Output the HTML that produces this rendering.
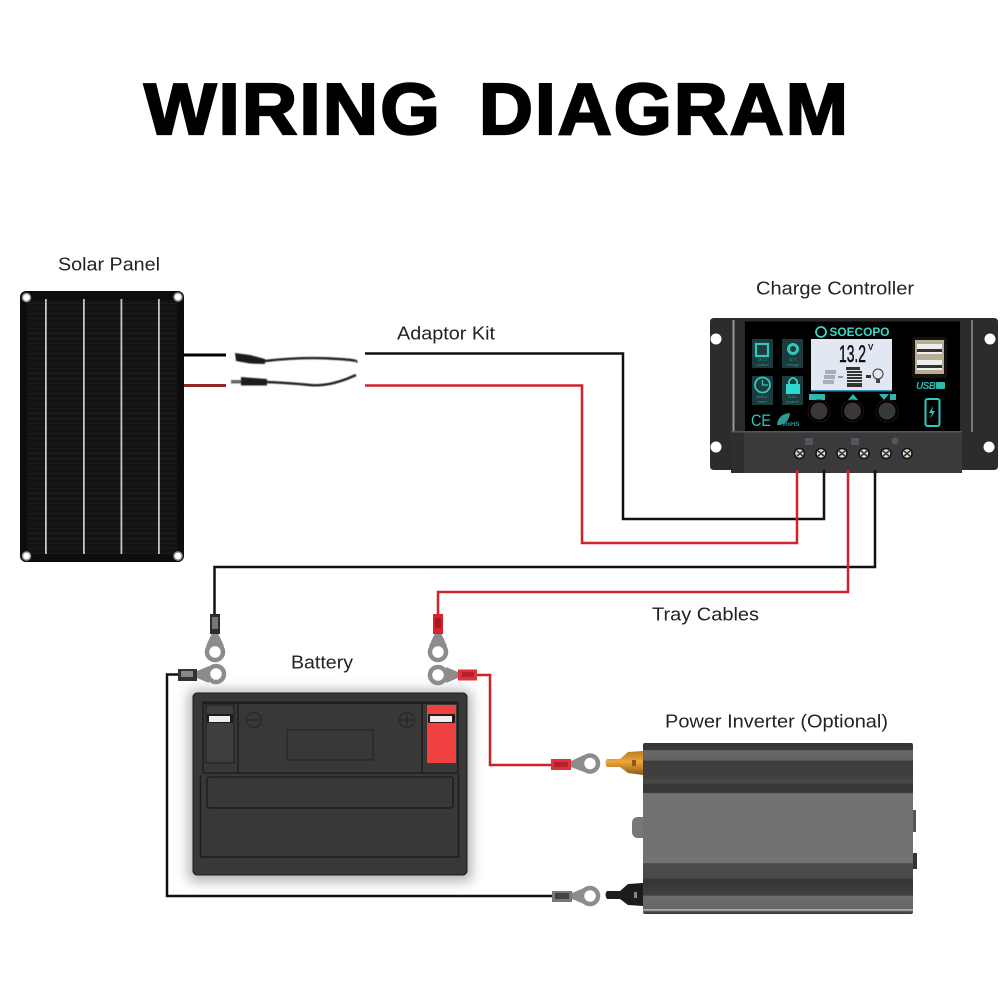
<!DOCTYPE html>
<html>
<head>
<meta charset="utf-8">
<style>
html,body{margin:0;padding:0;background:#fff}
svg{display:block}
text{font-family:"Liberation Sans",sans-serif}
</style>
</head>
<body>
<svg width="1000" height="1000" viewBox="0 0 1000 1000" xmlns="http://www.w3.org/2000/svg">
<defs>
<pattern id="cells" width="6" height="5" patternUnits="userSpaceOnUse">
<rect width="6" height="5" fill="#131313"/>
<rect y="3" width="6" height="1" fill="#1c1c1c"/>
</pattern>
<linearGradient id="inv" x1="0" y1="0" x2="0" y2="1">
<stop offset="0" stop-color="#363636"/>
<stop offset=".04" stop-color="#3a3a3a"/>
<stop offset=".045" stop-color="#6a6a6a"/>
<stop offset=".1" stop-color="#626262"/>
<stop offset=".105" stop-color="#3c3c3c"/>
<stop offset=".2" stop-color="#404040"/>
<stop offset=".23" stop-color="#4a4a4a"/>
<stop offset=".245" stop-color="#363636"/>
<stop offset=".29" stop-color="#383838"/>
<stop offset=".295" stop-color="#727272"/>
<stop offset=".7" stop-color="#727272"/>
<stop offset=".705" stop-color="#4c4c4c"/>
<stop offset=".79" stop-color="#484848"/>
<stop offset=".8" stop-color="#333"/>
<stop offset=".89" stop-color="#404040"/>
<stop offset=".895" stop-color="#6c6c6c"/>
<stop offset=".97" stop-color="#666"/>
<stop offset=".975" stop-color="#c4c4c4"/>
<stop offset=".985" stop-color="#555"/>
<stop offset="1" stop-color="#333"/>
</linearGradient>
<linearGradient id="gold" x1="0" y1="0" x2="0" y2="1">
<stop offset="0" stop-color="#b87a20"/>
<stop offset=".45" stop-color="#eea63a"/>
<stop offset="1" stop-color="#8a5a14"/>
</linearGradient>
<filter id="sh" x="-10%" y="-10%" width="120%" height="120%"><feGaussianBlur stdDeviation="6"/></filter>
<filter id="soft"><feGaussianBlur stdDeviation=".5"/></filter>
</defs>

<!-- Title -->
<g font-size="72" font-weight="700" fill="#000" stroke="#000" stroke-width="2.200" letter-spacing="2">
<text x="144" y="134" textLength="298" lengthAdjust="spacingAndGlyphs">WIRING</text>
<text x="479" y="134" textLength="371" lengthAdjust="spacingAndGlyphs">DIAGRAM</text>
</g>

<!-- Labels -->
<g font-size="18.500" fill="#222">
<text x="58" y="270.500" textLength="102" lengthAdjust="spacingAndGlyphs">Solar Panel</text>
<text x="397" y="339.500" textLength="98" lengthAdjust="spacingAndGlyphs">Adaptor Kit</text>
<text x="756" y="294.500" textLength="158" lengthAdjust="spacingAndGlyphs">Charge Controller</text>
<text x="652" y="620.500" textLength="107" lengthAdjust="spacingAndGlyphs">Tray Cables</text>
<text x="291" y="668.500" textLength="62" lengthAdjust="spacingAndGlyphs">Battery</text>
<text x="665" y="727.500" textLength="223" lengthAdjust="spacingAndGlyphs">Power Inverter (Optional)</text>
</g>

<!-- Wires -->
<g fill="none" stroke-width="2.500">
<path d="M365 353.500H623V519H824V470" stroke="#111"/>
<path d="M365 385.500H582V543H797V470" stroke="#d2232a"/>
<path d="M875 470V567H214.500V614" stroke="#111"/>
<path d="M848 470V592H438V614" stroke="#d2232a"/>
<path d="M178 674.500H167V896H553" stroke="#111"/>
<path d="M476 675H490V765H552" stroke="#cf2028"/>
</g>
<rect x="183" y="353.500" width="43" height="3" fill="#000"/>
<rect x="183" y="384" width="43" height="3" fill="#8e2a26"/>

<!-- Solar panel -->
<rect x="20" y="291" width="164" height="271" rx="6" fill="#0d0d0d"/>
<rect x="27" y="300" width="150" height="254" fill="url(#cells)"/>
<g fill="#c4c4c4">
<rect x="45" y="299" width="1.800" height="255"/>
<rect x="83" y="299" width="1.800" height="255"/>
<rect x="120.500" y="299" width="1.800" height="255"/>
<rect x="158" y="299" width="1.800" height="255"/>
</g>
<g fill="#fff" stroke="#999" stroke-width="1.500">
<circle cx="26.500" cy="297.500" r="4"/>
<circle cx="178" cy="297" r="4"/>
<circle cx="26.500" cy="556" r="4"/>
<circle cx="178" cy="556" r="4"/>
</g>

<!-- Adaptor kit -->
<g filter="url(#soft)">
<path d="M235 353L250 355L265 359V364L250 363.500L236 361Z" fill="#1c1c1c"/>
<path d="M265 361Q300 357 330 358.500T356 362" fill="none" stroke="#222" stroke-width="2.400"/>
<rect x="231" y="380" width="10" height="3.500" fill="#666"/>
<path d="M241 377L267 379V385.500L241 385.500Z" fill="#1c1c1c"/>
<path d="M266 382Q290 383 310 385T356 375" fill="none" stroke="#222" stroke-width="2.400"/>
</g>

<!-- Charge controller -->
<path d="M714 318H994Q998 318 998 322V466Q998 470 994 470H962V473H731V470H714Q710 470 710 466V322Q710 318 714 318Z" fill="#2c2c2e"/>
<rect x="732.500" y="320" width="2" height="112" fill="#999"/>
<rect x="971" y="320" width="2" height="112" fill="#777"/>
<rect x="735" y="320" width="226" height="112" fill="#2a2a2c"/>
<rect x="745" y="321.500" width="215" height="109.500" fill="#000"/>
<circle cx="716" cy="339" r="5.500" fill="#fff"/>
<circle cx="990" cy="339" r="5.500" fill="#fff"/>
<circle cx="716" cy="447" r="5.500" fill="#fff"/>
<circle cx="989" cy="447" r="5.500" fill="#fff"/>
<rect x="731" y="431" width="231" height="42" rx="3" fill="#3a3a3c"/>
<rect x="731" y="431" width="13" height="42" fill="#2e2e30"/>
<rect x="731" y="431" width="231" height="1.500" fill="#55555a"/>
<!-- controller header -->
<circle cx="821" cy="332" r="5" fill="none" stroke="#36d6c6" stroke-width="1.800"/>
<text x="829.500" y="336" font-size="11.500" font-weight="700" fill="#3ad8c8" textLength="60" lengthAdjust="spacingAndGlyphs">SOECOPO</text>
<!-- icon buttons -->
<g fill="#1d3a3c">
<rect x="752" y="339" width="21" height="29"/>
<rect x="782" y="339" width="21" height="29"/>
<rect x="752" y="376" width="21" height="29"/>
<rect x="782" y="376" width="21" height="29"/>
</g>
<rect x="756" y="344" width="12" height="12" fill="none" stroke="#2fc8bc" stroke-width="2.200"/>
<circle cx="793" cy="349" r="4.500" fill="none" stroke="#2fc8bc" stroke-width="3"/>
<circle cx="762.500" cy="385" r="7.500" fill="none" stroke="#2fc8bc" stroke-width="1.800"/>
<path d="M762.500 380V385H768" fill="none" stroke="#2fc8bc" stroke-width="1.300"/>
<rect x="786" y="384" width="14" height="10" fill="#2fd8cc"/>
<path d="M789 384V381Q793 375 797 381V384" fill="none" stroke="#2fd8cc" stroke-width="1.800"/>
<g font-size="4" fill="#2a9a94" text-anchor="middle">
<text x="762.500" y="361">MCU</text><text x="762.500" y="366">control</text>
<text x="792.500" y="361">SET</text><text x="792.500" y="366">voltage</text>
<text x="762.500" y="398">Built-in</text><text x="762.500" y="403">timer</text>
<text x="792.500" y="398">FULL</text><text x="792.500" y="403">protect</text>
</g>
<!-- LCD -->
<rect x="811" y="339" width="81" height="52" fill="#e2e8f2"/>
<rect x="811" y="390" width="81" height="1.500" fill="#3a8fc0"/>
<text x="839" y="362" font-size="24" fill="#111" stroke="#111" stroke-width=".5" textLength="27" lengthAdjust="spacingAndGlyphs">13.2</text>
<text x="868" y="350" font-size="8" font-weight="700" fill="#111">V</text>
<g fill="#a8aeb8">
<rect x="825" y="370" width="11" height="4"/><rect x="824" y="375" width="11" height="4"/><rect x="823" y="380" width="11" height="4"/>
</g>
<rect x="838" y="376" width="5" height="2" fill="#999"/>
<g fill="#333">
<rect x="846" y="367" width="14" height="3"/>
<rect x="847" y="371" width="15" height="2"/>
<rect x="847" y="374" width="15" height="2"/>
<rect x="847" y="377" width="15" height="2"/>
<rect x="847" y="380" width="15" height="2"/>
<rect x="847" y="383" width="15" height="4"/>
<rect x="866" y="375" width="5" height="3"/>
</g>
<circle cx="878" cy="374" r="5" fill="none" stroke="#333" stroke-width="1"/>
<rect x="876" y="379" width="4" height="4" fill="#444"/>
<!-- Knob labels and knobs -->
<rect x="809" y="394" width="16" height="6" fill="#2fb8ae"/>
<path d="M848 400L853 394L858 400Z" fill="#2fb8ae"/>
<path d="M879 394H889L884 400Z" fill="#2fb8ae"/>
<rect x="890" y="394" width="6" height="6" fill="#2fb8ae"/>
<g fill="none" stroke="#2a1010" stroke-width="1">
<circle cx="819" cy="411" r="11"/>
<circle cx="852.500" cy="411" r="11"/>
<circle cx="887" cy="411" r="11"/>
</g>
<g fill="#38383a">
<circle cx="819" cy="411" r="8.500"/>
<circle cx="852.500" cy="411" r="8.500"/>
<circle cx="887" cy="411" r="8.500"/>
</g>
<!-- CE / RoHS -->
<text x="751" y="426" font-size="17" fill="#2fc8bc" textLength="20" lengthAdjust="spacingAndGlyphs">CE</text>
<path d="M777 425Q778 414 790 413Q789 423 780 425Z" fill="#2a9a94"/>
<text x="783" y="426" font-size="6" font-weight="700" fill="#2a9a94">RoHS</text>
<!-- USB -->
<rect x="912" y="337" width="35" height="41" rx="3" fill="#16120e"/>
<rect x="915" y="340" width="29" height="34" fill="#b8ae98"/>
<rect x="917" y="344" width="25" height="10" fill="#eee"/>
<rect x="917" y="360" width="25" height="10" fill="#eee"/>
<rect x="917" y="349" width="25" height="3" fill="#333"/>
<rect x="917" y="365" width="25" height="3" fill="#333"/>
<text x="916" y="389" font-size="10" font-weight="700" font-style="italic" fill="#2fb8ae" textLength="20">USB</text>
<rect x="936" y="382" width="9" height="7" rx="1" fill="#2fb8ae"/>
<rect x="925.500" y="399" width="14" height="27" rx="2" fill="none" stroke="#2fc8bc" stroke-width="2"/>
<path d="M933 406L929 413H932L930 419L935 411H932Z" fill="#2fc8bc"/>
<!-- Screws -->
<g fill="#d8d8c8" stroke="#111" stroke-width="1.500">
<circle cx="799.500" cy="453.500" r="5"/>
<circle cx="821" cy="453.500" r="5"/>
<circle cx="842" cy="453.500" r="5"/>
<circle cx="864" cy="453.500" r="5"/>
<circle cx="886" cy="453.500" r="5"/>
<circle cx="907" cy="453.500" r="5"/>
</g>
<g stroke="#333" stroke-width="1.500">
<path d="M797 451L803 456M803 451L797 456M818 451L824 456M824 451L818 456M839 451L845 456M845 451L839 456M861 451L867 456M867 451L861 456M883 451L889 456M889 451L883 456M904 451L910 456M910 451L904 456"/>
</g>
<g fill="#55555a">
<rect x="805" y="438" width="8" height="7"/>
<rect x="851" y="438" width="8" height="7"/>
<circle cx="895" cy="441" r="3.500"/>
</g>
<!-- terminal wire stubs on top -->
<rect x="795.800" y="470" width="2.500" height="4" fill="#d2232a"/>
<rect x="822.800" y="470" width="2.500" height="4" fill="#111"/>
<rect x="846.800" y="470" width="2.500" height="4" fill="#d2232a"/>
<rect x="873.800" y="470" width="2.500" height="4" fill="#111"/>

<!-- Battery -->
<rect x="188" y="690" width="284" height="192" rx="6" fill="#888" opacity=".6" filter="url(#sh)"/>
<rect x="193" y="693" width="274" height="182" rx="4" fill="#383838"/>
<rect x="193" y="693" width="274" height="182" rx="4" fill="none" stroke="#1c1c1c" stroke-width="1"/>
<rect x="202" y="701.500" width="256" height="2.500" fill="#1e1e1e"/>
<g fill="none" stroke="#1e1e1e" stroke-width="1.300">
<rect x="287" y="730" width="86" height="30" stroke="#262626"/>
<path d="M203 703V773H238V704" stroke-width="1.500"/>
<path d="M422 704V773H458V703" stroke-width="1.500"/>
<path d="M238 773H422" stroke-width="1.500"/>
<path d="M210 777H450Q453 777 453 780V805Q453 808 450 808H210Q207 808 207 805V780Q207 777 210 777Z" stroke-width="1.500"/>
<circle cx="254" cy="720" r="7.500" stroke="#2a2a2a"/>
<path d="M247 720H261" stroke="#2a2a2a"/>
<circle cx="407" cy="720" r="7.500" stroke="#2a2a2a"/>
<path d="M400 720H414M407 713V727" stroke="#2a2a2a"/>
</g>
<path d="M200.500 775V857H458.500V775" fill="none" stroke="#1c1c1c" stroke-width="1.500"/>
<rect x="206" y="705" width="28" height="58" fill="#3e3e3e" stroke="#1c1c1c"/>
<rect x="207" y="714" width="26" height="9" rx="1" fill="#1c1c1c"/>
<rect x="209" y="716" width="21" height="6" fill="#f0eee8"/>
<rect x="427" y="705" width="29" height="58" fill="#ef4140"/>
<rect x="428" y="714" width="27" height="9" rx="1" fill="#2a1414"/>
<rect x="430" y="716" width="22" height="6" fill="#f0eee8"/>

<!-- Ring terminals -->
<g fill="none" stroke="#8c8c8c" stroke-width="4.500">
<circle cx="215" cy="652" r="8"/>
<circle cx="216" cy="674" r="8"/>
<circle cx="438" cy="652" r="8"/>
<circle cx="438" cy="675" r="8"/>
<circle cx="590" cy="763.500" r="8"/>
<circle cx="590" cy="896" r="8"/>
</g>
<g fill="#8c8c8c">
<path d="M212 633H218L224 646H206Z"/>
<path d="M435 633H441L447 646H429Z"/>
<path d="M197 671V678L209 683V666Z"/>
<path d="M458 672V678L446 683V667Z"/>
<path d="M571 761V767L584 772V755Z"/>
<path d="M572 893V899L584 904V888Z"/>
</g>
<g>
<rect x="210" y="614" width="10" height="20" fill="#2c2c2c"/>
<rect x="212" y="617" width="6" height="12" fill="#777"/>
<rect x="433" y="614" width="10" height="20" fill="#d8232e"/>
<rect x="435" y="618" width="6" height="10" fill="#a81820"/>
<rect x="178" y="669" width="19" height="12" fill="#333"/>
<rect x="181" y="671" width="12" height="6" fill="#888"/>
<rect x="458" y="669.500" width="19" height="11" fill="#e0303c"/>
<rect x="462" y="672" width="12" height="5" fill="#b5202a"/>
<rect x="551" y="759" width="20" height="11" fill="#e0303c"/>
<rect x="554" y="762" width="14" height="5" fill="#b5202a"/>
<rect x="552" y="891" width="20" height="11" fill="#777"/>
<rect x="555" y="893" width="14" height="6" fill="#444"/>
</g>

<!-- Inverter -->
<rect x="643" y="743" width="270" height="171" rx="2" fill="url(#inv)"/>
<path d="M643 817H637Q632 818 632 823V832Q632 837 637 838H643Z" fill="#777"/>
<rect x="913" y="810" width="3" height="22" fill="#555"/>
<rect x="913" y="853" width="4" height="16" fill="#333"/>
<!-- gold post -->
<path d="M643 751V775L628 773L620 767H607Q604 762.500 607 759H620L628 752Z" fill="url(#gold)"/>
<rect x="632" y="760" width="4" height="6" fill="#8a5a14"/>
<!-- black post -->
<path d="M643 883V906L628 905L620 899H607Q604 894.500 607 891H620L628 884Z" fill="#1c1c1c"/>
<rect x="634" y="892" width="3" height="6" fill="#888"/>
</svg>
</body>
</html>
